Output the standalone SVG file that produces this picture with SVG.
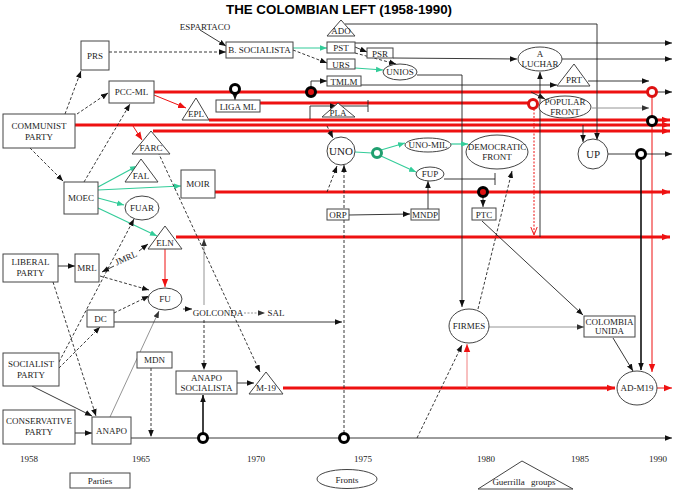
<svg xmlns="http://www.w3.org/2000/svg" width="675" height="491" viewBox="0 0 675 491">
<defs>
<style>
.n rect,.n ellipse,.n polygon,.n circle{fill:#fff;stroke:#444;stroke-width:1}
text{font-family:"Liberation Serif","Times New Roman",serif;font-size:9px;fill:#222;text-anchor:middle}
.ttl{font-family:"Liberation Sans",Arial,sans-serif;font-weight:bold;font-size:13px;fill:#000}
.c line,.c path,.c polyline{fill:none}
.k{stroke:#222;stroke-width:0.9}
.kb{stroke:#111;stroke-width:1.6}
.d{stroke:#222;stroke-width:0.9;stroke-dasharray:3,2}
.g{stroke:#33cc99;stroke-width:1.2}
.r{stroke:#ee1111;stroke-width:3}
.rt{stroke:#ee1111;stroke-width:1}
.rp{stroke:#f08080;stroke-width:1}
.rd{stroke:#ee1111;stroke-width:1;stroke-dasharray:2,1.5}
.gy{stroke:#888;stroke-width:0.9}
.gyd{stroke:#888;stroke-width:0.9;stroke-dasharray:2,1.5}
.rb{fill:#fff;stroke:#000;stroke-width:3}
.rr{fill:#fff;stroke:#dd1111;stroke-width:3}
.rbr{fill:#dd1111;stroke:#000;stroke-width:3}
.rg{fill:#fff;stroke:#1f9f6f;stroke-width:3}
</style>
<marker id="ab" viewBox="0 0 10 10" refX="10" refY="5" markerWidth="7" markerHeight="7" markerUnits="userSpaceOnUse" orient="auto-start-reverse"><path d="M0,1L10,5L0,9z" fill="#111"/></marker>
<marker id="ar" viewBox="0 0 10 10" refX="10" refY="5" markerWidth="8" markerHeight="8" markerUnits="userSpaceOnUse" orient="auto"><path d="M0,1L10,5L0,9z" fill="#ee1111"/></marker>
<marker id="ao" viewBox="0 0 10 10" refX="10" refY="5" markerWidth="8" markerHeight="8" markerUnits="userSpaceOnUse" orient="auto"><path d="M0,1L10,5L0,9" fill="none" stroke="#ee1111" stroke-width="1.2"/></marker>
<marker id="ag" viewBox="0 0 10 10" refX="10" refY="5" markerWidth="7" markerHeight="7" markerUnits="userSpaceOnUse" orient="auto"><path d="M0,1L10,5L0,9z" fill="#33cc99"/></marker>
<marker id="ay" viewBox="0 0 10 10" refX="10" refY="5" markerWidth="7" markerHeight="7" markerUnits="userSpaceOnUse" orient="auto"><path d="M0,1L10,5L0,9z" fill="#333"/></marker>
</defs>
<rect width="675" height="491" fill="#fff"/>
<text class="ttl" x="339" y="14" textLength="226" lengthAdjust="spacingAndGlyphs">THE COLOMBIAN LEFT (1958-1990)</text>

<g id="connectors" class="c">
<!-- thick red lines -->
<line class="r" x1="154" y1="92" x2="648" y2="92"/>
<line class="r" x1="260" y1="103" x2="529" y2="103"/>
<line class="r" x1="209" y1="120" x2="670" y2="120" marker-end="url(#ar)"/>
<line class="r" x1="75" y1="125" x2="670" y2="125" marker-end="url(#ar)"/>
<line class="r" x1="153" y1="131" x2="670" y2="131" marker-end="url(#ar)"/>
<line class="r" x1="215" y1="192" x2="670" y2="192" marker-end="url(#ar)"/>
<line class="r" x1="176" y1="237" x2="670" y2="237" marker-end="url(#ar)"/>
<line class="r" x1="283" y1="388" x2="615" y2="388" marker-end="url(#ar)"/>
<line class="rt" x1="657" y1="388" x2="672" y2="388" marker-end="url(#ar)"/>
<!-- top area -->
<line class="k" x1="200" y1="30" x2="226" y2="46" marker-end="url(#ab)"/>
<line class="d" x1="109" y1="52" x2="226" y2="52" marker-end="url(#ab)"/>
<line class="d" x1="65" y1="114" x2="81" y2="71" marker-end="url(#ab)"/>
<line class="d" x1="77" y1="114" x2="108" y2="93" marker-end="url(#ab)"/>
<line class="d" x1="30" y1="148" x2="63" y2="181" marker-end="url(#ab)"/>
<line class="d" x1="84" y1="182" x2="130" y2="104" marker-end="url(#ab)"/>
<line class="rt" x1="154" y1="95" x2="186" y2="108" marker-end="url(#ar)"/>
<line class="rt" x1="133" y1="126" x2="142" y2="140" marker-end="url(#ar)"/>
<line class="g" x1="293" y1="48" x2="327" y2="48" marker-end="url(#ag)"/>
<line class="d" x1="293" y1="50" x2="327" y2="63" marker-end="url(#ab)"/>
<line class="k" x1="355" y1="47" x2="367" y2="52" marker-end="url(#ab)"/>
<line class="d" x1="355" y1="53" x2="396" y2="64" marker-end="url(#ab)"/>
<line class="g" x1="355" y1="68" x2="383" y2="70" marker-end="url(#ag)"/>
<path class="k" d="M345,24H597V140" marker-end="url(#ab)"/>
<line class="k" x1="355" y1="43" x2="672" y2="43" marker-end="url(#ab)"/>
<line class="k" x1="393" y1="58" x2="517" y2="59" marker-end="url(#ab)"/>
<line class="k" x1="562" y1="59" x2="672" y2="59" marker-end="url(#ab)"/>
<path class="k" d="M417,75H462V307" marker-end="url(#ab)"/>
<line class="k" x1="235" y1="94" x2="235" y2="100" marker-end="url(#ab)"/>
<path class="k" d="M311,87V81H327" marker-end="url(#ab)"/>
<line class="k" x1="361" y1="85" x2="557" y2="85" marker-end="url(#ab)"/>
<line class="k" x1="588" y1="81" x2="649" y2="81" marker-end="url(#ab)"/>
<line class="k" x1="657" y1="92" x2="672" y2="92" marker-end="url(#ab)"/>
<line class="rt" x1="652" y1="97" x2="652" y2="372" marker-end="url(#ar)"/>
<line class="k" x1="531" y1="92" x2="545" y2="99" marker-end="url(#ab)"/>
<line class="gy" x1="592" y1="108" x2="649" y2="108" marker-end="url(#ay)"/>
<line class="rd" x1="534" y1="109" x2="534" y2="235" marker-end="url(#ao)"/>
<line class="k" x1="540" y1="237" x2="540" y2="72" marker-end="url(#ab)"/>
<line class="k" x1="583" y1="125" x2="583" y2="142" marker-end="url(#ab)"/>
<path class="k" d="M310,119V106H337" marker-end="url(#ab)"/>
<path class="k" d="M337,106H368M368,100V112"/>
<line class="d" x1="327" y1="126" x2="333" y2="138" marker-end="url(#ab)"/>
<!-- UNO area -->
<line class="g" x1="355" y1="152" x2="372" y2="153"/>
<line class="g" x1="381" y1="150" x2="405" y2="143" marker-end="url(#ag)"/>
<line class="g" x1="381" y1="156" x2="416" y2="172" marker-end="url(#ag)"/>
<line class="g" x1="451" y1="144" x2="468" y2="144" marker-end="url(#ag)"/>
<path class="k" d="M444,179H495M495,173V185"/>
<line class="k" x1="483" y1="197" x2="483" y2="207" marker-end="url(#ab)"/>
<line class="k" x1="349" y1="215" x2="410" y2="214" marker-end="url(#ab)"/>
<line class="k" x1="428" y1="209" x2="428" y2="181" marker-end="url(#ab)"/>
<line class="d" x1="327" y1="192" x2="337" y2="166" marker-end="url(#ab)"/>
<line class="d" x1="344" y1="433" x2="344" y2="165" marker-end="url(#ab)"/>
<!-- MOEC / left area -->
<line class="g" x1="98" y1="187" x2="137" y2="166" marker-end="url(#ag)"/>
<line class="g" x1="98" y1="190" x2="181" y2="186" marker-end="url(#ag)"/>
<line class="g" x1="98" y1="198" x2="124" y2="205" marker-end="url(#ag)"/>
<line class="g" x1="98" y1="208" x2="157" y2="236" marker-end="url(#ag)"/>
<line class="k" x1="58" y1="266" x2="75" y2="266" marker-end="url(#ab)"/>
<line class="k" x1="114" y1="266" x2="102" y2="272" marker-end="url(#ab)"/>
<line class="k" x1="139" y1="251" x2="148" y2="244" marker-end="url(#ab)"/>
<line class="d" x1="100" y1="276" x2="149" y2="290" marker-end="url(#ab)"/>
<line class="d" x1="114" y1="313" x2="149" y2="296" marker-end="url(#ab)"/>
<line class="d" x1="59" y1="368" x2="100" y2="327" marker-end="url(#ab)"/>
<line class="d" x1="59" y1="362" x2="134" y2="219" marker-end="url(#ab)"/>
<line class="d" x1="53" y1="282" x2="96" y2="416" marker-end="url(#ab)"/>
<line class="k" x1="32" y1="386" x2="92" y2="416" marker-end="url(#ab)"/>
<line class="k" x1="75" y1="433" x2="92" y2="433" marker-end="url(#ab)"/>
<line class="gy" x1="110" y1="417" x2="159" y2="311" marker-end="url(#ay)"/>
<line class="rt" x1="165" y1="249" x2="165" y2="287" marker-end="url(#ar)"/>
<line class="k" x1="114" y1="322" x2="342" y2="322" marker-end="url(#ab)"/>
<line class="k" x1="183" y1="309" x2="192" y2="309" marker-end="url(#ab)"/>
<line class="gyd" x1="244" y1="313" x2="265" y2="313" marker-end="url(#ay)"/>
<line class="gy" x1="204" y1="305" x2="204" y2="239" marker-end="url(#ay)"/>
<line class="d" x1="204" y1="320" x2="204" y2="370" marker-end="url(#ab)"/>
<line class="d" x1="158" y1="152" x2="260" y2="372" marker-end="url(#ab)"/>
<line class="d" x1="151" y1="368" x2="151" y2="437" marker-end="url(#ab)"/>
<line class="k" x1="131" y1="438" x2="672" y2="438" marker-end="url(#ab)"/>
<line class="kb" x1="203" y1="433" x2="203" y2="395" marker-end="url(#ab)"/>
<line class="k" x1="237" y1="383" x2="254" y2="383" marker-end="url(#ab)"/>
<!-- right lower -->
<line class="gy" x1="489" y1="327" x2="584" y2="327" marker-end="url(#ay)"/>
<line class="k" x1="482" y1="221" x2="583" y2="315" marker-end="url(#ab)"/>
<line class="d" x1="478" y1="309" x2="512" y2="171" marker-end="url(#ab)"/>
<line class="d" x1="417" y1="438" x2="462" y2="345" marker-end="url(#ab)"/>
<line class="rp" x1="467" y1="388" x2="467" y2="344" marker-end="url(#ar)"/>
<line class="k" x1="613" y1="338" x2="633" y2="371" marker-end="url(#ab)"/>
<line class="k" x1="608" y1="154" x2="672" y2="154" marker-end="url(#ab)"/>
<line class="kb" x1="641" y1="159" x2="641" y2="370" marker-end="url(#ab)"/>
<!-- rings -->
<circle class="rb" cx="235" cy="89" r="4.5"/>
<circle class="rbr" cx="311" cy="92" r="4.5"/>
<circle class="rg" cx="377" cy="153" r="4.5"/>
<circle class="rbr" cx="483" cy="192" r="4.5"/>
<circle class="rr" cx="533" cy="104" r="4.5"/>
<circle class="rr" cx="652" cy="92" r="4.5"/>
<circle class="rb" cx="652" cy="121" r="4.5"/>
<circle class="rb" cx="641" cy="154" r="4.5"/>
<circle class="rb" cx="203" cy="438" r="4.5"/>
<circle class="rb" cx="344" cy="438" r="4.5"/>
</g>

<g id="espartaco"><text x="205" y="30">ESPARTACO</text></g>
<g id="prs" class="n"><rect x="81" y="41" width="28" height="29"/><text x="95" y="59">PRS</text></g>
<g id="bsocialista" class="n"><rect x="226" y="42" width="67" height="16"/><text x="259.5" y="53">B. SOCIALISTA</text></g>
<g id="pccml" class="n"><rect x="109" y="81" width="45" height="22"/><text x="131.5" y="95">PCC-ML</text></g>
<g id="communist" class="n"><rect x="3" y="114" width="72" height="34"/><text x="39" y="129">COMMUNIST</text><text x="39" y="140">PARTY</text></g>
<g id="epl" class="n"><polygon points="196,98 209,120 182,120"/><text x="196" y="117">EPL</text></g>
<g id="farc" class="n"><polygon points="151,131 170,154 132,154"/><text x="151" y="151">FARC</text></g>
<g id="ligaml" class="n"><rect x="216" y="100" width="44" height="12"/><text x="238" y="109.5">LIGA ML</text></g>
<g id="ado" class="n"><polygon points="341,20 355,36 327,36"/><text x="341" y="34">ADO</text></g>
<g id="pst" class="n"><rect x="327" y="42" width="28" height="11"/><text x="341" y="51">PST</text></g>
<g id="urs" class="n"><rect x="327" y="59" width="28" height="10"/><text x="341" y="67.5">URS</text></g>
<g id="tmlm" class="n"><rect x="327" y="76" width="34" height="10"/><text x="344" y="84.5">TMLM</text></g>
<g id="psr" class="n"><rect x="367" y="48" width="26" height="10"/><text x="380" y="56.5">PSR</text></g>
<g id="unios" class="n"><ellipse cx="400" cy="72" rx="17" ry="8"/><text x="400" y="75">UNIOS</text></g>
<g id="pla" class="n"><polygon points="338,103 355,117 322,117"/><text x="338" y="116">PLA</text></g>
<g id="aluchar" class="n"><ellipse cx="540" cy="59" rx="22" ry="12"/><text x="540" y="57">A</text><text x="540" y="67">LUCHAR</text></g>
<g id="prt" class="n"><polygon points="574,64 590,86 557,86"/><text x="574" y="83">PRT</text></g>
<g id="popularfront" class="n"><ellipse cx="565" cy="107" rx="26" ry="11"/><text x="565" y="105">POPULAR</text><text x="565" y="115">FRONT</text></g>
<g id="uno" class="n"><circle cx="341" cy="151" r="14"/><text x="341" y="155" style="font-size:11px">UNO</text></g>
<g id="unomil" class="n"><ellipse cx="428" cy="145" rx="23" ry="7"/><text x="428" y="148">UNO-MIL</text></g>
<g id="fup" class="n"><ellipse cx="430" cy="174" rx="14" ry="7"/><text x="430" y="177">FUP</text></g>
<g id="democraticfront" class="n"><ellipse cx="497" cy="152" rx="31" ry="17"/><text x="497" y="150">DEMOCRATIC</text><text x="497" y="160">FRONT</text></g>
<g id="up" class="n"><circle cx="593" cy="154" r="15"/><text x="593" y="158" style="font-size:11px">UP</text></g>
<g id="moec" class="n"><rect x="64" y="182" width="34" height="32"/><text x="81" y="201">MOEC</text></g>
<g id="fal" class="n"><polygon points="141,159 158,182 125,182"/><text x="141" y="179">FAL</text></g>
<g id="fuar" class="n"><ellipse cx="142" cy="208" rx="17" ry="12"/><text x="142" y="211">FUAR</text></g>
<g id="moir" class="n"><rect x="181" y="170" width="34" height="28"/><text x="198" y="187">MOIR</text></g>
<g id="eln" class="n"><polygon points="165,226 182,249 148,249"/><text x="165" y="246">ELN</text></g>
<g id="orp" class="n"><rect x="327" y="209" width="22" height="11"/><text x="338" y="218">ORP</text></g>
<g id="mndp" class="n"><rect x="411" y="209" width="28" height="11"/><text x="425" y="218">MNDP</text></g>
<g id="ptc" class="n"><rect x="472" y="208" width="24" height="12"/><text x="484" y="217.5">PTC</text></g>
<g id="liberal" class="n"><rect x="3" y="254" width="55" height="28"/><text x="30.5" y="265">LIBERAL</text><text x="30.5" y="276">PARTY</text></g>
<g id="mrl" class="n"><rect x="75" y="254" width="24" height="28"/><text x="87" y="271">MRL</text></g>
<g id="jmrl"><text x="126" y="261" transform="rotate(-24 126 258)">JMRL</text></g>
<g id="fu" class="n"><ellipse cx="165" cy="299" rx="17" ry="11"/><text x="165" y="302">FU</text></g>
<g id="golconda"><text x="218" y="316">GOLCONDA</text></g>
<g id="sal"><text x="276" y="316">SAL</text></g>
<g id="dc" class="n"><rect x="87" y="310" width="27" height="17"/><text x="100.5" y="321.5">DC</text></g>
<g id="firmes" class="n"><ellipse cx="469" cy="326" rx="20" ry="17"/><text x="469" y="329">FIRMES</text></g>
<g id="colombiaunida" class="n"><rect x="584" y="316" width="51" height="21"/><text x="609.5" y="325">COLOMBIA</text><text x="609.5" y="334">UNIDA</text></g>
<g id="socialist" class="n"><rect x="3" y="353" width="56" height="33"/><text x="31" y="367">SOCIALIST</text><text x="31" y="378">PARTY</text></g>
<g id="mdn" class="n"><rect x="137" y="352" width="35" height="16"/><text x="154.5" y="363">MDN</text></g>
<g id="anaposocialista" class="n"><rect x="176" y="371" width="61" height="23"/><text x="206.5" y="381">ANAPO</text><text x="206.5" y="391">SOCIALISTA</text></g>
<g id="m19" class="n"><polygon points="266,372 283,394 249,394"/><text x="266" y="391">M-19</text></g>
<g id="admi19" class="n"><ellipse cx="637" cy="388" rx="20" ry="17"/><text x="637" y="391">AD-M19</text></g>
<g id="conservative" class="n"><rect x="3" y="410" width="72" height="34"/><text x="39" y="424">CONSERVATIVE</text><text x="39" y="435">PARTY</text></g>
<g id="anapo" class="n"><rect x="92" y="417" width="39" height="27"/><text x="111.5" y="434">ANAPO</text></g>

<g id="years">
<text x="29" y="462">1958</text><text x="141" y="462">1965</text><text x="256" y="462">1970</text><text x="363" y="462">1975</text><text x="486" y="462">1980</text><text x="580" y="462">1985</text><text x="658" y="462">1990</text>
</g>
<g id="legend-parties" class="n"><rect x="70" y="473" width="60" height="15"/><text x="100" y="484">Parties</text></g>
<g id="legend-fronts" class="n"><ellipse cx="347" cy="479" rx="30" ry="9.5"/><text x="347" y="483">Fronts</text></g>
<g id="legend-guerrilla" class="n"><polygon points="522,461 573,489 478,489"/><text x="524" y="485" style="word-spacing:4px">Guerrilla groups</text></g>
</svg>
